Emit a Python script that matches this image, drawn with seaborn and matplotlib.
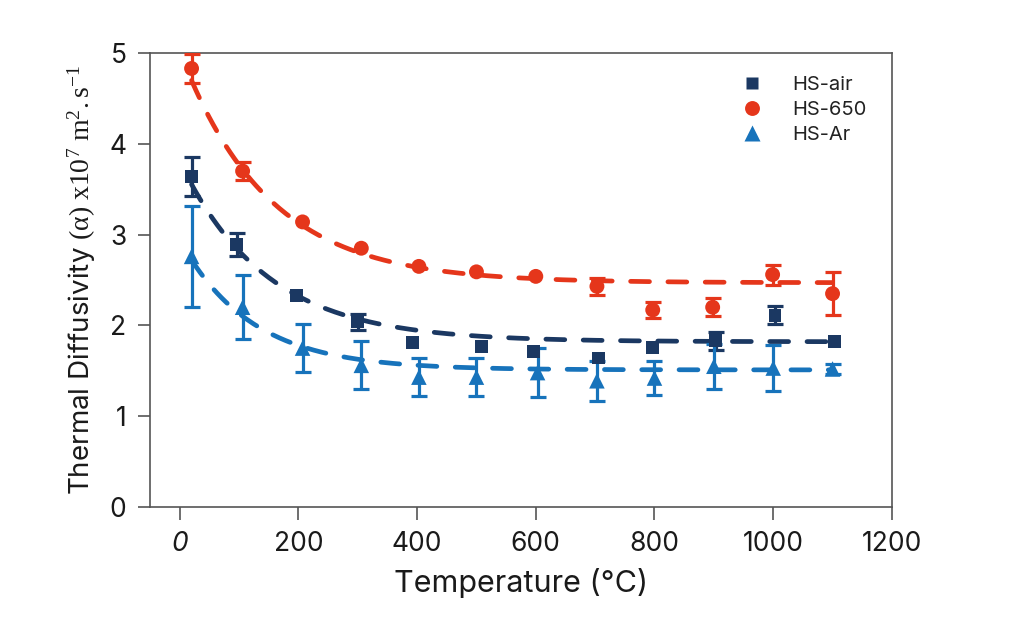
import numpy as np
import pandas as pd
import matplotlib
matplotlib.use("Agg")
import matplotlib.pyplot as plt
import seaborn as sns

# ---- data ----
series_names = ["HS-air", "HS-650", "HS-Ar"]

temp_air = [20, 96, 197, 300, 392, 508, 596, 705, 796, 903, 1003, 1103]
alpha_air = [3.64, 2.89, 2.33, 2.04, 1.81, 1.77, 1.71, 1.64, 1.76, 1.83, 2.11, 1.82]
err_air = [0.22, 0.13, 0.0, 0.09, 0.0, 0.0, 0.0, 0.0, 0.0, 0.10, 0.10, 0.0]

temp_650 = [20, 106, 207, 306, 403, 500, 600, 703, 797, 898, 999, 1100]
alpha_650 = [4.83, 3.70, 3.14, 2.85, 2.65, 2.59, 2.54, 2.43, 2.17, 2.20, 2.56, 2.35]
err_650 = [0.16, 0.10, 0.0, 0.0, 0.0, 0.0, 0.0, 0.09, 0.09, 0.10, 0.11, 0.235]

temp_ar = [20, 106, 207, 306, 403, 500, 603, 703, 800, 900, 1000, 1100]
alpha_ar = [2.76, 2.20, 1.75, 1.56, 1.43, 1.43, 1.48, 1.39, 1.42, 1.55, 1.53, 1.52]
err_ar = [0.56, 0.35, 0.265, 0.265, 0.21, 0.21, 0.27, 0.22, 0.19, 0.25, 0.25, 0.06]

# exponential-decay fit parameters (y0, A, t)
fit_air = (1.82, 1.99, 145.0)
fit_650 = (2.47, 2.55, 148.0)
fit_ar = (1.51, 1.43, 120.0)

x_ticks = [0, 200, 400, 600, 800, 1000, 1200]
y_ticks = [0, 1, 2, 3, 4, 5]

colors = {"HS-air": "#1b3862", "HS-650": "#e5361b", "HS-Ar": "#1773bb"}
markers = {"HS-air": "s", "HS-650": "o", "HS-Ar": "^"}
msizes = {"HS-air": 85, "HS-650": 115, "HS-Ar": 125}

# ---- build tables ----
pts = pd.concat([
    pd.DataFrame({"T": temp_air, "alpha": alpha_air, "err": err_air, "series": "HS-air"}),
    pd.DataFrame({"T": temp_650, "alpha": alpha_650, "err": err_650, "series": "HS-650"}),
    pd.DataFrame({"T": temp_ar, "alpha": alpha_ar, "err": err_ar, "series": "HS-Ar"}),
], ignore_index=True)

tgrid = np.linspace(20, 1100, 300)
fits = []
for name, (y0, A, t) in zip(series_names, [fit_air, fit_650, fit_ar]):
    fits.append(pd.DataFrame({"T": tgrid, "alpha": y0 + A * np.exp(-tgrid / t), "series": name}))
fits = pd.concat(fits, ignore_index=True)

# ---- plot ----
sns.set_theme(style="ticks")
plt.rcParams["font.family"] = ["Inter", "DejaVu Sans"]
plt.rcParams["mathtext.fontset"] = "custom"
plt.rcParams["mathtext.rm"] = "Liberation Serif"
plt.rcParams["mathtext.it"] = "Liberation Serif:italic"

fig = plt.figure(figsize=(10.24, 6.42), dpi=100)
ax = fig.add_axes([0.1465, 0.2103, 0.7245, 0.7071])

# fit curves
for name in series_names:
    d = fits[fits.series == name]
    sns.lineplot(data=d, x="T", y="alpha", ax=ax, color=colors[name],
                 linewidth=3.4, legend=False, zorder=2)
for l in ax.get_lines():
    l.set_linestyle((0, (4.0, 3.9)))
    l.set_dash_capstyle("round")

# error bars
for name in series_names:
    d = pts[(pts.series == name) & (pts.err > 0)]
    ax.errorbar(d["T"], d["alpha"], yerr=d["err"], fmt="none", ecolor=colors[name],
                elinewidth=2.3, capsize=6, capthick=2.3, zorder=3)

# markers
sns.scatterplot(data=pts, x="T", y="alpha", hue="series", style="series",
                hue_order=series_names, style_order=series_names,
                palette=colors, markers=markers, size="series",
                sizes=msizes, ax=ax, edgecolor="none", zorder=4, legend=True)

handles, labels = ax.get_legend_handles_labels()
hl = [(h, l) for h, l in zip(handles, labels) if l in series_names]
leg = ax.legend([h for h, _ in hl], [l for _, l in hl], loc="upper right",
                bbox_to_anchor=(0.99, 0.99), frameon=False, fontsize=14.5,
                handletextpad=1.0, labelspacing=0.35, markerscale=1.0)
for h in leg.legend_handles:
    try:
        h.set_sizes([75])
    except Exception:
        pass
for t in leg.get_texts():
    t.set_color("#222222")

ax.set_xlim(-50, 1200)
ax.set_ylim(0, 5)
ax.set_xticks(x_ticks)
ax.set_yticks(y_ticks)
ax.set_xticklabels([str(v) for v in x_ticks])
ax.set_yticklabels([str(v) for v in y_ticks])
ax.get_xticklabels()[0].set_fontstyle("italic")

ax.tick_params(axis="both", direction="out", length=9, width=1.2, colors="#555555",
               labelcolor="#1a1a1a", labelsize=19, pad=8)
for s in ax.spines.values():
    s.set_visible(True)
    s.set_color("#555555")
    s.set_linewidth(1.2)

ax.set_xlabel("Temperature (°C)", fontsize=22, color="#1a1a1a", labelpad=8)
ax.set_ylabel(r"Thermal Diffusivity $\mathrm{(\alpha)\ x10^{7}\ m^{2}.s^{-1}}$",
              fontsize=20, color="#1a1a1a", labelpad=8)

fig.savefig("out.png", dpi=100, facecolor="white")
